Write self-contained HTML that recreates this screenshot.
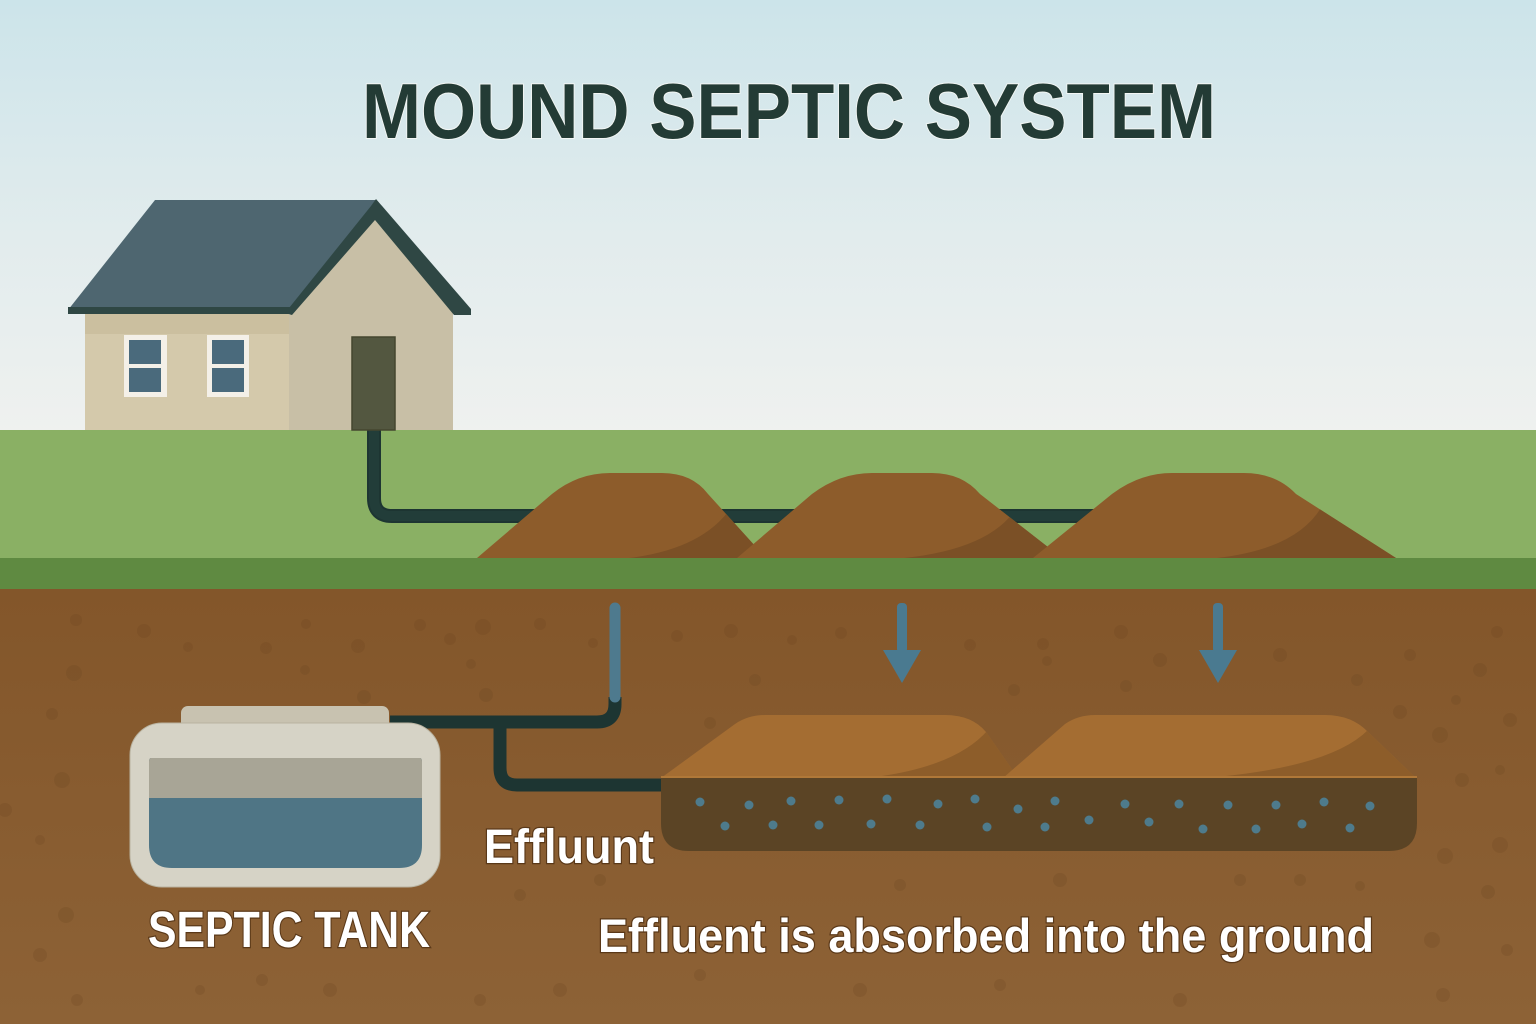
<!DOCTYPE html>
<html><head><meta charset="utf-8"><style>
html,body{margin:0;padding:0;width:1536px;height:1024px;overflow:hidden;background:#855a2d}
svg{display:block}
</style></head><body>
<svg width="1536" height="1024" viewBox="0 0 1536 1024" xmlns="http://www.w3.org/2000/svg">
<defs>
<linearGradient id="sky" x1="0" y1="0" x2="0" y2="1">
<stop offset="0" stop-color="#cce4ea"/><stop offset="0.55" stop-color="#e2eced"/><stop offset="1" stop-color="#eff1ef"/>
</linearGradient>
<linearGradient id="soil" x1="0" y1="0" x2="0" y2="1">
<stop offset="0" stop-color="#83562a"/><stop offset="1" stop-color="#8d6236"/>
</linearGradient>
<clipPath id="m1"><path id="m1p" d="M477,558 L552,494 Q578,473 610,473 L662,473 Q692,473 708,494 L766,558 Z"/></clipPath>
<clipPath id="m2"><path d="M737,558 L812,494 Q840,473 872,473 L932,473 Q962,473 980,494 L1062,558 Z"/></clipPath>
<clipPath id="m3"><path d="M1033,558 L1112,494 Q1140,473 1172,473 L1244,473 Q1276,473 1296,494 L1396,558 Z"/></clipPath>
<clipPath id="ua"><path d="M661,778 L735,724 Q748,715 765,715 L945,715 Q972,715 986,732 L1018,778 Z"/></clipPath>
<clipPath id="ub"><path d="M1003,778 L1065,724 Q1078,715 1095,715 L1325,715 Q1352,715 1368,732 L1416,778 Z"/></clipPath>
</defs>
<rect x="0" y="0" width="1536" height="432" fill="url(#sky)"/>
<rect x="0" y="430" width="1536" height="130" fill="#8ab064"/>
<rect x="0" y="558" width="1536" height="32" fill="#5f8a41"/>
<rect x="0" y="589" width="1536" height="435" fill="url(#soil)"/>

<!-- soil speckles -->
<g fill="#6a4520" opacity="0.22">
<circle cx="76" cy="620" r="6"/><circle cx="144" cy="631" r="7"/><circle cx="188" cy="647" r="5"/><circle cx="74" cy="673" r="8"/><circle cx="52" cy="714" r="6"/><circle cx="62" cy="780" r="8"/><circle cx="40" cy="840" r="5"/><circle cx="5" cy="810" r="7"/><circle cx="66" cy="915" r="8"/><circle cx="40" cy="955" r="7"/><circle cx="77" cy="1000" r="6"/>
<circle cx="266" cy="648" r="6"/><circle cx="305" cy="670" r="5"/><circle cx="358" cy="646" r="7"/><circle cx="306" cy="624" r="5"/><circle cx="420" cy="625" r="6"/><circle cx="450" cy="639" r="6"/><circle cx="483" cy="627" r="8"/><circle cx="364" cy="697" r="7"/><circle cx="471" cy="664" r="5"/><circle cx="486" cy="695" r="7"/><circle cx="540" cy="624" r="6"/><circle cx="593" cy="643" r="5"/>
<circle cx="677" cy="636" r="6"/><circle cx="731" cy="631" r="7"/><circle cx="792" cy="640" r="5"/><circle cx="841" cy="633" r="6"/><circle cx="755" cy="680" r="6"/><circle cx="710" cy="723" r="6"/><circle cx="970" cy="645" r="6"/><circle cx="1043" cy="644" r="6"/><circle cx="1121" cy="632" r="7"/><circle cx="1047" cy="661" r="5"/><circle cx="1014" cy="690" r="6"/><circle cx="1126" cy="686" r="6"/><circle cx="1160" cy="660" r="7"/><circle cx="1280" cy="655" r="7"/><circle cx="1357" cy="680" r="6"/><circle cx="1410" cy="655" r="6"/><circle cx="1497" cy="632" r="6"/><circle cx="1480" cy="670" r="7"/><circle cx="1456" cy="700" r="5"/><circle cx="1400" cy="712" r="7"/><circle cx="1440" cy="735" r="8"/><circle cx="1510" cy="720" r="7"/><circle cx="1500" cy="770" r="5"/><circle cx="1462" cy="780" r="7"/><circle cx="1500" cy="845" r="8"/><circle cx="1445" cy="856" r="8"/><circle cx="1488" cy="892" r="7"/><circle cx="1432" cy="940" r="8"/><circle cx="1507" cy="950" r="6"/><circle cx="1443" cy="995" r="7"/>
<circle cx="1300" cy="880" r="6"/><circle cx="1240" cy="880" r="6"/><circle cx="1360" cy="886" r="5"/><circle cx="1180" cy="1000" r="7"/><circle cx="1000" cy="985" r="6"/><circle cx="860" cy="990" r="7"/><circle cx="700" cy="975" r="6"/><circle cx="560" cy="990" r="7"/><circle cx="480" cy="1000" r="6"/><circle cx="330" cy="990" r="7"/><circle cx="262" cy="980" r="6"/><circle cx="200" cy="990" r="5"/><circle cx="520" cy="895" r="6"/><circle cx="600" cy="880" r="6"/><circle cx="900" cy="885" r="6"/><circle cx="1060" cy="880" r="7"/>
</g>

<!-- surface pipe from house -->
<path d="M374,430 V498 Q374,516 392,516 H1100" fill="none" stroke="#1d3532" stroke-width="14"/>
<path d="M374,430 V498 Q374,516 392,516 H1100" fill="none" stroke="#223d39" stroke-width="10"/>

<!-- surface mounds -->
<g clip-path="url(#m1)">
<rect x="470" y="470" width="300" height="90" fill="#8d5c2b"/>
<path d="M629,558 Q712,548 738,496 L800,430 L800,560 Z" fill="#7b5026"/>
</g>
<g clip-path="url(#m2)">
<rect x="730" y="470" width="340" height="90" fill="#8d5c2b"/>
<path d="M904,558 Q1000,548 1022,498 L1080,430 L1080,560 Z" fill="#7b5026"/>
</g>
<g clip-path="url(#m3)">
<rect x="1030" y="470" width="370" height="90" fill="#8d5c2b"/>
<path d="M1217,558 Q1305,548 1326,498 L1400,430 L1400,560 Z" fill="#7b5026"/>
</g>

<!-- house -->
<polygon points="288,316 375,218 453,306 453,430 288,430" fill="#c8bfa6"/>
<rect x="85" y="312" width="204" height="118" fill="#d4c9ab"/>
<rect x="85" y="312" width="204" height="22" fill="#cbbf9f"/>
<polygon points="68,310 155,200 376,200 290,312" fill="#4e6670"/>
<rect x="68" y="307" width="223" height="7" fill="#2f4744"/>
<polygon points="376,199 471,309 471,315 454,315 375,220 292,315 285,313 371,206" fill="#2f4744"/>
<rect x="124" y="335" width="43" height="62" fill="#f4f0e8"/>
<rect x="129" y="340" width="32" height="24" fill="#4a6a7c"/>
<rect x="129" y="368" width="32" height="24" fill="#4a6a7c"/>
<rect x="207" y="335" width="42" height="62" fill="#f4f0e8"/>
<rect x="212" y="340" width="32" height="24" fill="#4a6a7c"/>
<rect x="212" y="368" width="32" height="24" fill="#4a6a7c"/>
<rect x="352" y="337" width="43" height="93" fill="#535740" stroke="#44472f" stroke-width="1.5"/>

<!-- underground pipes -->
<path d="M615,697 V704 Q615,722 597,722 H390" fill="none" stroke="#1d3532" stroke-width="13"/>
<path d="M500,722 V768 Q500,785 517,785 H666" fill="none" stroke="#1d3532" stroke-width="13"/>
<path d="M615,608 V697" fill="none" stroke="#4e7a8e" stroke-width="11" stroke-linecap="round"/>

<!-- septic tank -->
<rect x="181" y="706" width="208" height="30" rx="7" fill="#c8c2b0"/>
<rect x="130" y="723" width="310" height="164" rx="32" fill="#d6d3c6" stroke="#b9b3a0" stroke-width="1"/>
<path d="M151,758 H420 Q422,758 422,762 V845 Q422,868 399,868 H172 Q149,868 149,845 V762 Q149,758 151,758 Z" fill="#4f7585"/>
<path d="M151,758 H420 Q422,758 422,762 V798 H149 V762 Q149,758 151,758 Z" fill="#a8a596"/>

<!-- arrows -->
<g fill="#4a7a90">
<rect x="897" y="603" width="10" height="50" rx="4"/>
<polygon points="883,650 921,650 902,683"/>
<rect x="1213" y="603" width="10" height="50" rx="4"/>
<polygon points="1199,650 1237,650 1218,683"/>
</g>

<!-- mound bed -->
<path d="M661,778 H1417 V823 Q1417,851 1389,851 H689 Q661,851 661,823 Z" fill="#5b4425"/>
<g clip-path="url(#ua)">
<rect x="655" y="710" width="370" height="70" fill="#a46d32"/>
<path d="M867,778 Q955,768 988,730 L1030,700 L1030,780 Z" fill="#8d5d2a"/>
</g>
<g clip-path="url(#ub)">
<rect x="1000" y="710" width="420" height="70" fill="#a46d32"/>
<path d="M1204,778 Q1330,768 1368,730 L1420,700 L1420,780 Z" fill="#8d5d2a"/>
</g>
<rect x="661" y="776" width="756" height="2" fill="#b07838"/>

<g fill="#4e7b8c">
<circle cx="700" cy="802" r="4.5"/><circle cx="749" cy="805" r="4.5"/><circle cx="791" cy="801" r="4.5"/><circle cx="839" cy="800" r="4.5"/><circle cx="887" cy="799" r="4.5"/><circle cx="938" cy="804" r="4.5"/><circle cx="975" cy="799" r="4.5"/><circle cx="1018" cy="809" r="4.5"/><circle cx="1055" cy="801" r="4.5"/><circle cx="1125" cy="804" r="4.5"/><circle cx="1179" cy="804" r="4.5"/><circle cx="1228" cy="805" r="4.5"/><circle cx="1276" cy="805" r="4.5"/><circle cx="1324" cy="802" r="4.5"/><circle cx="1370" cy="806" r="4.5"/>
<circle cx="725" cy="826" r="4.5"/><circle cx="773" cy="825" r="4.5"/><circle cx="819" cy="825" r="4.5"/><circle cx="871" cy="824" r="4.5"/><circle cx="920" cy="825" r="4.5"/><circle cx="987" cy="827" r="4.5"/><circle cx="1045" cy="827" r="4.5"/><circle cx="1089" cy="820" r="4.5"/><circle cx="1149" cy="822" r="4.5"/><circle cx="1203" cy="829" r="4.5"/><circle cx="1256" cy="829" r="4.5"/><circle cx="1302" cy="824" r="4.5"/><circle cx="1350" cy="828" r="4.5"/>
</g>

<!-- text -->
<text x="362" y="138" textLength="854" lengthAdjust="spacingAndGlyphs" font-family="'Liberation Sans', sans-serif" font-weight="bold" font-size="78" fill="#233b35" stroke="#f2f6f4" stroke-width="2" paint-order="stroke">MOUND SEPTIC SYSTEM</text>
<g font-family="'Liberation Sans', sans-serif" font-weight="bold" fill="#ffffff" stroke="#5a3818" stroke-width="2.5" paint-order="stroke">
<text x="484" y="863" textLength="170" lengthAdjust="spacingAndGlyphs" font-size="48">Effluunt</text>
<text x="148" y="947" textLength="282" lengthAdjust="spacingAndGlyphs" font-size="51">SEPTIC TANK</text>
<text x="598" y="952" textLength="776" lengthAdjust="spacingAndGlyphs" font-size="47">Effluent is absorbed into the ground</text>
</g>
</svg>
</body></html>
